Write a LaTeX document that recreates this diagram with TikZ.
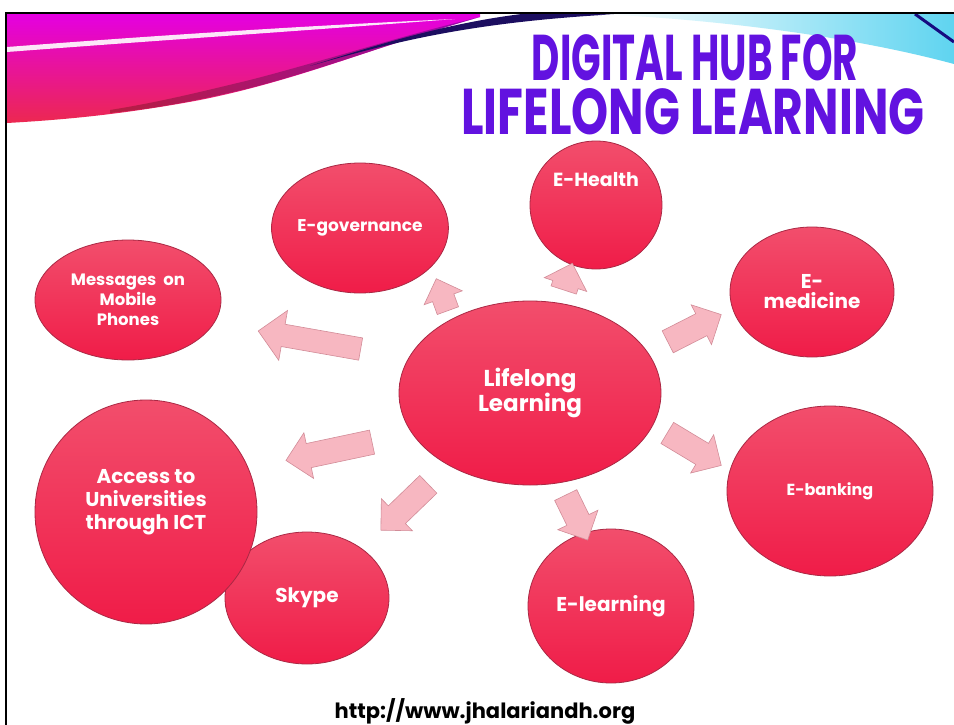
\documentclass[tikz,border=0pt]{standalone}
\usepackage{fontspec}
\setmainfont{Poppins}
\usetikzlibrary{shapes.geometric,shapes.arrows}
\definecolor{ellTop}{RGB}{242,78,108}
\definecolor{ellBot}{RGB}{240,28,72}
\definecolor{ellEdge}{RGB}{170,40,68}
\definecolor{arrFill}{RGB}{247,183,193}
\definecolor{arrEdge}{RGB}{210,140,152}
\definecolor{titleCol}{RGB}{98,18,224}
\definecolor{swMag}{RGB}{228,0,225}
\definecolor{swRed}{RGB}{236,40,80}
\definecolor{swNavy}{RGB}{28,14,96}
\definecolor{swCyan}{RGB}{95,212,240}
\tikzset{
  bubble/.style={ellipse, draw=ellEdge, line width=0.8pt, top color=ellTop, bottom color=ellBot,
    inner sep=0pt, align=center, text=white, font=\bfseries},
  blockarrow/.style={single arrow, draw=arrEdge, fill=arrFill, line width=0.6pt,
    inner xsep=0pt, text height=0pt, text depth=0pt, single arrow head indent=0pt},
  titletext/.style={inner sep=0pt, text=titleCol, font=\bfseries},
}
\begin{document}
\begin{tikzpicture}[x=1pt,y=-1pt]
\useasboundingbox (0,0) rectangle (954,725);
\fill[white] (0,0) rectangle (954,725);
% top-left swoosh
\shade[top color=swMag, bottom color=swRed] (7,14) -- (480,14) -- (480,17)
  .. controls (380,45) and (300,80) .. (200,100) .. controls (120,115) and (60,120) .. (7,123) -- cycle;
\fill[white, opacity=0.9] (7,47) .. controls (150,36) and (300,26) .. (455,19)
  .. controls (300,31) and (150,41) .. (7,52) -- cycle;
\shade[left color=swRed!70!black, right color=swMag!50!swNavy, opacity=0.75]
  (110,113) .. controls (160,108) and (200,100) .. (250,88)
  .. controls (320,70) and (400,40) .. (480,17)
  .. controls (400,36) and (320,62) .. (250,80)
  .. controls (200,92) and (160,102) .. (110,110) -- cycle;
\fill[swNavy] (310,66) .. controls (400,40) and (480,20) .. (640,13) -- (530,13)
  .. controls (450,22) and (380,44) .. (310,66) -- cycle;
% top-right swoosh
\shade[left color=white, right color=swCyan] (600,14) -- (954,14) -- (954,64)
  .. controls (850,36) and (720,20) .. (600,14) -- cycle;
\draw[swNavy!80!blue, line width=3pt] (915,14) -- (954,42);
% frame
\draw[black, line width=2pt] (6,725) -- (6,13) -- (954,13);
% title
\node[titletext] (t1) at (695,58) {\resizebox{326pt}{46pt}{DIGITAL HUB FOR}};
\node[titletext] (t2) at (693,112) {\resizebox{463pt}{46pt}{LIFELONG LEARNING}};
% bubbles
\node[bubble, minimum width=262pt, minimum height=184pt, font=\bfseries\fontsize{23}{25}\selectfont] (ll) at (530,393) {Lifelong\\Learning};
\node[bubble, minimum width=164pt, minimum height=130pt, font=\bfseries\fontsize{17}{20}\selectfont] (egov) at (360,228) {E-governance};
\node[bubble, minimum width=132pt, minimum height=128pt] (ehealth) at (596,205) {};
\node[inner sep=0pt, text=white, font=\bfseries\fontsize{19}{22}\selectfont] (ehealthT) at (596,180) {E-Health};
\node[bubble, minimum width=164pt, minimum height=130pt, font=\bfseries\fontsize{20}{20}\selectfont] (emed) at (812,292) {E-\\medicine};
\node[bubble, minimum width=206pt, minimum height=170pt, font=\bfseries\fontsize{16}{18}\selectfont] (ebank) at (830,491) {E-banking};
\node[bubble, minimum width=166pt, minimum height=154pt, font=\bfseries\fontsize{20}{22}\selectfont] (elearn) at (611,606) {E-learning};
\node[bubble, minimum width=164pt, minimum height=132pt, font=\bfseries\fontsize{20}{22}\selectfont] (skype) at (307,598) {Skype};
\node[bubble, minimum width=222pt, minimum height=224pt] (access) at (146,512) {};
\node[inner sep=0pt, align=center, text=white, font=\bfseries\fontsize{20}{23}\selectfont] (accessT) at (146,502) {Access to\\Universities\\through ICT};
\node[bubble, minimum width=186pt, minimum height=120pt, font=\bfseries\fontsize{16.5}{20}\selectfont] (msg) at (128,300) {Messages\ \ on\\Mobile\\Phones};
% block arrows
\node[blockarrow, minimum height=104pt, inner ysep=11pt, single arrow head extend=14pt, rotate=170] (aMsg) at (315,341) {};
\node[blockarrow, minimum height=88pt, inner ysep=12pt, single arrow head extend=11pt, rotate=192] (aAcc) at (335,450) {};
\node[blockarrow, minimum height=66pt, inner ysep=12pt, single arrow head extend=10pt, rotate=224] (aSky) at (409,503) {};
\node[blockarrow, minimum height=50pt, inner ysep=12pt, single arrow head extend=10pt, rotate=-64] (aLearn) at (574,512) {};
\node[blockarrow, minimum height=63pt, inner ysep=12pt, single arrow head extend=10pt, rotate=-31] (aBank) at (689,446) {};
\node[blockarrow, minimum height=60pt, inner ysep=12pt, single arrow head extend=10pt, rotate=27] (aMed) at (689,331) {};
\node[blockarrow, minimum height=28pt, inner ysep=13pt, single arrow head extend=9pt, rotate=72] (aHealth) at (566,283) {};
\node[blockarrow, minimum height=34pt, inner ysep=11pt, single arrow head extend=9pt, rotate=110] (aGov) at (444,300) {};
% url
\node[inner sep=0pt, font=\bfseries\fontsize{21}{23}\selectfont] (url) at (485,711) {http://www.jhalariandh.org};
\end{tikzpicture}
\end{document}
